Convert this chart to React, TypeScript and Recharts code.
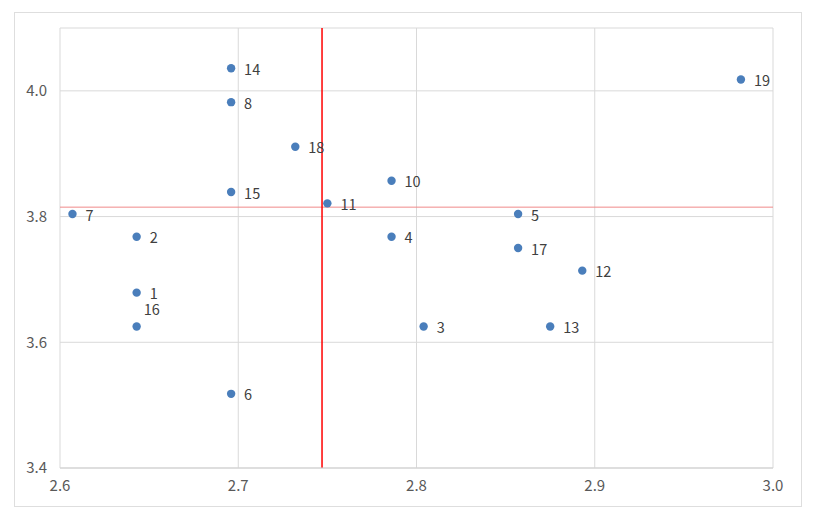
import { ScatterChart, Scatter, XAxis, YAxis, CartesianGrid, ReferenceLine } from 'recharts'

// point labels and their coordinates
const pointLabels = ['1', '2', '3', '4', '5', '6', '7', '8', '10', '11', '12', '13', '14', '15', '16', '17', '18', '19']
const xValues = [2.643, 2.643, 2.804, 2.786, 2.857, 2.696, 2.607, 2.696, 2.786, 2.75, 2.893, 2.875, 2.696, 2.696, 2.643, 2.857, 2.732, 2.982]
const yValues = [3.679, 3.768, 3.625, 3.768, 3.804, 3.518, 3.804, 3.982, 3.857, 3.821, 3.714, 3.625, 4.036, 3.839, 3.625, 3.75, 3.911, 4.018]

const xTicks = [2.6, 2.7, 2.8, 2.9, 3.0]
const yTicks = [3.4, 3.6, 3.8, 4.0]

// mean lines
const meanX = 2.747
const meanY = 3.815

const data = pointLabels.map((label, i) => ({ label, x: xValues[i], y: yValues[i] }))

const font = '"Noto Sans CJK KR", "Noto Sans", sans-serif'

const colors = {
  dot: '#4a7ebb',
  grid: '#d9d9d9',
  tick: '#595959',
  label: '#404040',
  border: '#dedede'
}

const renderPoint = (props: any) => {
  const { cx, cy, payload } = props
  // label 16 sits above its point so it doesn't clash with 1
  const above = payload.label === '16'
  return (
    <g>
      <circle cx={cx} cy={cy} r={4.2} fill={colors.dot} />
      <text
        x={above ? cx + 7 : cx + 13}
        y={above ? cy - 18 : cy}
        dominantBaseline="central"
        fontSize={14.5}
        fontFamily={font}
        fill={colors.label}
      >
        {payload.label}
      </text>
    </g>
  )
}

export default function App() {
  return (
    <div style={{ position: 'absolute', left: 0, top: 0, width: 822, height: 512, background: '#fff' }}>
      <div
        style={{
          position: 'absolute',
          left: 14,
          top: 12,
          width: 786,
          height: 493,
          border: `1px solid ${colors.border}`
        }}
      />
      <div style={{ position: 'absolute', left: 0, top: 0 }}>
        <ScatterChart width={822} height={512} margin={{ top: 28, right: 49, bottom: 0, left: 0 }}>
          <CartesianGrid stroke={colors.grid} strokeWidth={1} />
          <XAxis
            type="number"
            dataKey="x"
            domain={[2.6, 3.0]}
            ticks={xTicks}
            tickFormatter={(v: number) => v.toFixed(1)}
            height={44}
            tickLine={false}
            tickSize={0}
            tickMargin={12}
            axisLine={{ stroke: '#d0d0d0' }}
            tick={{ fill: colors.tick, fontSize: 15, fontFamily: font }}
          />
          <YAxis
            type="number"
            dataKey="y"
            domain={[3.4, 4.1]}
            ticks={yTicks}
            tickFormatter={(v: number) => v.toFixed(1)}
            width={60}
            tickLine={false}
            tickSize={0}
            tickMargin={13}
            axisLine={false}
            tick={{ fill: colors.tick, fontSize: 15, fontFamily: font }}
          />
          <ReferenceLine y={meanY} stroke="#f08a8a" strokeWidth={1} />
          <ReferenceLine x={meanX} stroke="#ff0000" strokeWidth={1.5} />
          <Scatter data={data} shape={renderPoint} isAnimationActive={false} />
        </ScatterChart>
      </div>
    </div>
  )
}
